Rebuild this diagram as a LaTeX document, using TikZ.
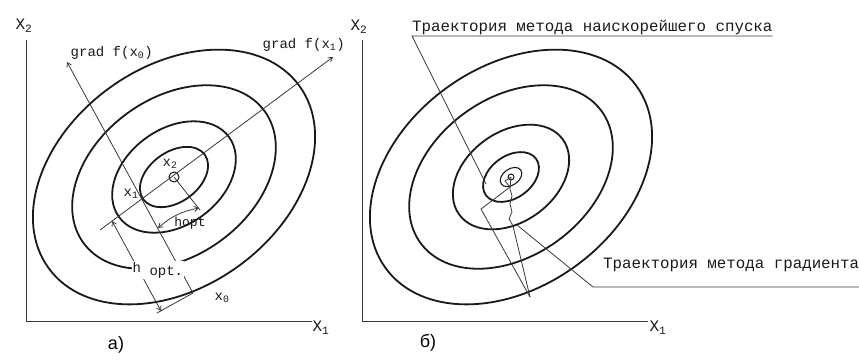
\documentclass[tikz,border=0pt]{standalone}
\usepackage{fontspec}
\setmainfont{Liberation Mono}
\newfontfamily\panelfont{Liberation Sans}
\usetikzlibrary{arrows.meta,positioning}
\definecolor{inkblack}{rgb}{0.1,0.1,0.1}
\definecolor{pencilgray}{rgb}{0.22,0.22,0.22}
\tikzset{
  contour/.style={draw=inkblack, line width=1.8pt},
  guide/.style={draw=pencilgray, line width=0.8pt},
  barb/.style={-{Straight Barb[length=4pt,width=5pt]}},
  dim/.style={{Straight Barb[length=4pt,width=5pt]}-{Straight Barb[length=4pt,width=5pt]}},
  lbl/.style={inner sep=0.5pt, text=inkblack, font=\fontsize{14}{16}\selectfont},
  axlbl/.style={inner sep=0pt, text=inkblack, font=\fontsize{16}{18}\selectfont},
  rus/.style={inner sep=0pt, anchor=base west, text=inkblack, font=\fontsize{15.8}{18}\selectfont},
  panel/.style={inner sep=0pt, text=black, font=\panelfont\fontsize{18}{20}\selectfont}
}

\begin{document}
\begin{tikzpicture}[x=1pt,y=-1pt]
    \useasboundingbox (0,0) rectangle (859,360);

    % axes
    \foreach \ox/\nm in {26/a,362/b} {
        \coordinate (top\nm) at (\ox,40);
        \coordinate (orig\nm) at (\ox,321);
        \coordinate (end\nm) at (\ox+286,321);
        \draw[guide] (top\nm) -- (orig\nm) -- (end\nm);
    }
    \node[axlbl] (xtwoa) at (24,26) {X\textsubscript{2}};
    \node[axlbl] (xonea) at (321,328) {X\textsubscript{1}};
    \node[axlbl] (xtwob) at (359,27) {X\textsubscript{2}};
    \node[axlbl] (xoneb) at (658,328) {X\textsubscript{1}};

    % level lines a)
    \coordinate (ca) at (174,177);
    \foreach \ra/\rb in {155/110,112/79,68/48,38/25}
        \draw[contour, rotate around={36:(ca)}] (ca) ellipse [x radius=\ra, y radius=\rb];
    \draw[contour, line width=1pt] (ca) circle [radius=5];

    % level lines b)
    \coordinate (cb) at (511,177);
    \foreach \ra/\rb in {155/110,112/79,64/45,31/21}
        \draw[contour, rotate around={36:(cb)}] (cb) ellipse [x radius=\ra, y radius=\rb];
    \draw[contour, line width=1.1pt, rotate around={36:(cb)}] (cb) ellipse [x radius=12, y radius=8];
    \draw[contour, line width=1pt] (cb) circle [radius=3];

    % steepest descent step, a)
    \coordinate (g0) at (67,62);
    \coordinate (x0) at (193,293);
    \coordinate (x1) at (142,199);
    \coordinate (g1) at (333,57);
    \coordinate (tail) at (100,230);
    \coordinate (ht) at (112,221);
    \coordinate (hb) at (161,311);
    \coordinate (hx) at (157,313);
    \coordinate (ex) at (200,210);
    \coordinate (ha) at (158,228);
    \coordinate (hc) at (199,208);
    \draw[guide, barb] (x0) -- (g0);
    \draw[guide, barb] (tail) -- (g1);
    \draw[guide] (x0) -- (hx);
    \draw[guide] (ca) -- (ex);
    \draw[guide, dim] (ht) -- (hb);
    \draw[guide, dim] (ha) to[bend left=15] (hc);

    \node[lbl, anchor=base west] (gradx0) at (70,56) {grad f(x\textsubscript{0})};
    \node[lbl, anchor=base west] (gradx1) at (262,48) {grad f(x\textsubscript{1})};
    \node[lbl] (lx1) at (131,194) {x\textsubscript{1}};
    \node[lbl] (lx2) at (170,164) {x\textsubscript{2}};
    \node[lbl] (lx0) at (222,298) {x\textsubscript{0}};
    \node[lbl, fill=white, anchor=west] (hopta) at (132,270) {h \raisebox{-3pt}{opt.}};
    \node[lbl, font=\fontsize{13}{15}\selectfont] (hoptb) at (190,223) {hopt};

    % trajectories b)
    \coordinate (s0) at (530,297);
    \coordinate (s1) at (481,209);
    \coordinate (s2) at (510,187);
    \coordinate (s3) at (505,181);
    \draw[guide] (s0) -- (s1) -- (s2) -- (s3) -- (cb);
    \draw[guide] (s0) -- (513,226) -- (509,219) -- (512,212) -- (510,204)
        -- (512,196) -- (510,189) -- (cb);

    \node[rus] (steep) at (412,31) {Траектория метода наискорейшего спуска};
    \coordinate (sp) at (486,184);
    \draw[guide] ([yshift=-5pt]steep.base east) -- ([yshift=-5pt]steep.base west) -- (sp);

    \node[rus] (grad) at (603,268) {Траектория метода градиента};
    \coordinate (gu0) at (593,287);
    \coordinate (gu1) at (859,287);
    \coordinate (gp) at (517,225);
    \draw[guide] (gu1) -- (gu0) -- (gp);

    \node[panel] (capa) at (116,345) {a)};
    \node[panel] (capb) at (428,343) {б)};
\end{tikzpicture}
\end{document}
